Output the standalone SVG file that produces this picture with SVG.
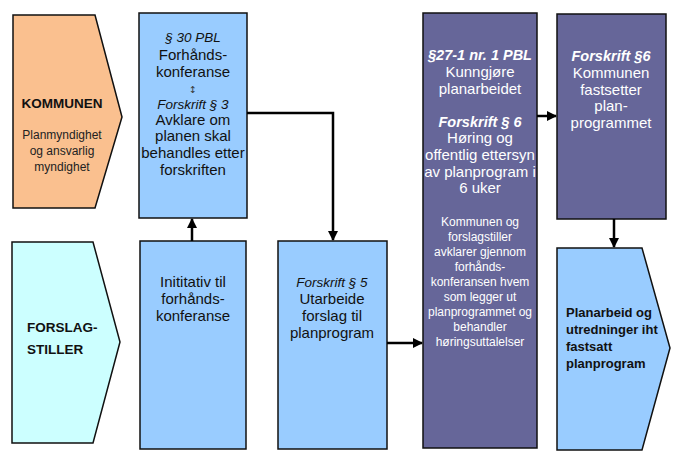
<svg xmlns="http://www.w3.org/2000/svg" width="683" height="466" viewBox="0 0 683 466">
<style>
text{font-family:"Liberation Sans",Arial,sans-serif;text-anchor:middle;fill:#111}
.box{stroke:#111;stroke-width:1.5}
.m{font-size:15px}
.i{font-size:13.5px;font-style:italic}
.bi{font-size:14.5px;font-style:italic;font-weight:bold}
.w{fill:#fff}
.s{font-size:12px}
.b{font-weight:bold;font-size:13px;text-anchor:start}
.con{stroke:#000;stroke-width:2.5;fill:none;marker-end:url(#ah)}
</style>
<defs>
<marker id="ah" viewBox="0 0 10 10" refX="9" refY="5" markerWidth="4" markerHeight="4" orient="auto" markerUnits="strokeWidth">
<path d="M0,0 L10,5 L0,10 z" fill="#000"/>
</marker>
</defs>
<rect width="683" height="466" fill="#fff"/>

<g id="kommunen">
<path class="box" d="M13,15 H95 L122,117 L95,208 H13 Z" fill="#FAC08F"/>
<text x="62" y="108" style="font-weight:bold;font-size:13.5px">KOMMUNEN</text>
<text x="62" y="139" style="font-size:12px;fill:#222">Planmyndighet</text>
<text x="62" y="155" style="font-size:12px;fill:#222">og ansvarlig</text>
<text x="62" y="171" style="font-size:12px;fill:#222">myndighet</text>
</g>

<g id="forslagstiller">
<path class="box" d="M12,242 H93 L120,342 L93,443 H12 Z" fill="#CCFFFF"/>
<text class="b" x="27" y="332" style="font-size:13.5px">FORSLAG-</text>
<text class="b" x="27" y="354" style="font-size:13.5px">STILLER</text>
</g>

<g id="forhandskonferanse">
<rect class="box" x="139" y="13" width="108" height="205" fill="#99CCFF"/>
<text class="i" x="193" y="42">§ 30 PBL</text>
<text class="m" x="193" y="60">Forhånds-</text>
<text class="m" x="193" y="77">konferanse</text>
<text x="193" y="93" style="font-family:'DejaVu Sans',sans-serif;font-size:9.5px;fill:#333">↕</text>
<text class="i" x="193" y="109">Forskrift § 3</text>
<text class="m" x="193" y="125">Avklare om</text>
<text class="m" x="193" y="141">planen skal</text>
<text class="m" x="193" y="158">behandles etter</text>
<text class="m" x="193" y="175">forskriften</text>
</g>

<g id="initiativ">
<rect class="box" x="140" y="241" width="106" height="208" fill="#99CCFF"/>
<text class="m" x="193" y="287">Inititativ til</text>
<text class="m" x="193" y="304">forhånds-</text>
<text class="m" x="193" y="321">konferanse</text>
</g>

<g id="utarbeide">
<rect class="box" x="278" y="241" width="109" height="208" fill="#99CCFF"/>
<text class="i" x="332" y="287">Forskrift § 5</text>
<text class="m" x="332" y="304">Utarbeide</text>
<text class="m" x="332" y="321">forslag til</text>
<text class="m" x="332" y="338">planprogram</text>
</g>

<g id="kunngjore">
<rect class="box" x="423" y="13" width="114" height="435" fill="#666699"/>
<text class="bi w" x="480" y="60">§27-1 nr. 1 PBL</text>
<text class="m w" x="480" y="77">Kunngjøre</text>
<text class="m w" x="480" y="94">planarbeidet</text>
<text class="bi w" x="480" y="127">Forskrift § 6</text>
<text class="m w" x="480" y="143">Høring og</text>
<text class="m w" x="480" y="160">offentlig ettersyn</text>
<text class="m w" x="480" y="177">av planprogram i</text>
<text class="m w" x="480" y="193">6 uker</text>
<text class="s w" x="480" y="226">Kommunen og</text>
<text class="s w" x="480" y="241">forslagstiller</text>
<text class="s w" x="480" y="256">avklarer gjennom</text>
<text class="s w" x="480" y="271">forhånds-</text>
<text class="s w" x="480" y="286">konferansen hvem</text>
<text class="s w" x="480" y="301">som legger ut</text>
<text class="s w" x="480" y="316">planprogrammet og</text>
<text class="s w" x="480" y="331">behandler</text>
<text class="s w" x="480" y="346">høringsuttalelser</text>
</g>

<g id="fastsetter">
<rect class="box" x="557" y="14" width="109" height="205" fill="#666699"/>
<text class="bi w" x="611" y="61">Forskrift §6</text>
<text class="m w" x="611" y="78">Kommunen</text>
<text class="m w" x="611" y="95">fastsetter</text>
<text class="m w" x="611" y="111">plan-</text>
<text class="m w" x="611" y="128">programmet</text>
</g>

<g id="planarbeid">
<path class="box" d="M557,248 H642 L670,348 L642,450 H557 Z" fill="#99CCFF"/>
<text class="b" x="566" y="317">Planarbeid og</text>
<text class="b" x="566" y="334">utredninger iht</text>
<text class="b" x="566" y="351">fastsatt</text>
<text class="b" x="566" y="368">planprogram</text>
</g>

<g id="connectors">
<path class="con" d="M192,241 V219"/>
<path class="con" d="M247,113 H333 V240"/>
<path class="con" d="M387,343 H422"/>
<path class="con" d="M537,116 H556"/>
<path class="con" d="M614,219 V247"/>
</g>
</svg>
